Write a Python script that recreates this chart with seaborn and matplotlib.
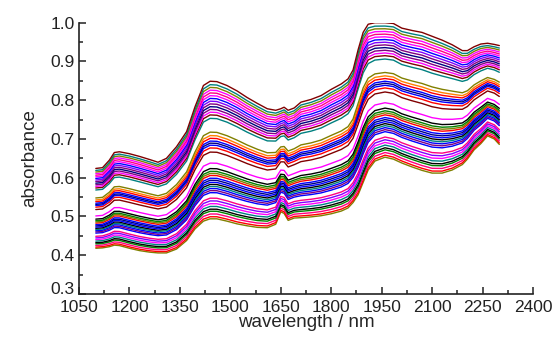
import numpy as np
import pandas as pd
import matplotlib
matplotlib.use('Agg')
import matplotlib.pyplot as plt
from matplotlib.ticker import MultipleLocator, FuncFormatter
import seaborn as sns

# --- NIR spectra: absorbance vs wavelength ---
wavelength = [1100, 1120, 1140, 1155, 1170, 1200, 1230, 1260, 1285, 1310,
              1340, 1370, 1395, 1420, 1440, 1460, 1490, 1520, 1550, 1580,
              1610, 1635, 1650, 1660, 1672, 1690, 1710, 1740, 1770, 1800,
              1830, 1850, 1865, 1880, 1895, 1910, 1930, 1960, 1985, 2010,
              2040, 2070, 2100, 2130, 2160, 2190, 2205, 2225, 2245, 2265,
              2285, 2300]

# highest spectrum (wine)
top_spectrum = [0.624, 0.626, 0.645, 0.665, 0.667, 0.662, 0.655, 0.647, 0.640, 0.650,
                0.680, 0.719, 0.783, 0.838, 0.849, 0.848, 0.838, 0.824, 0.807, 0.792,
                0.778, 0.774, 0.778, 0.782, 0.774, 0.780, 0.795, 0.802, 0.812, 0.828,
                0.842, 0.855, 0.878, 0.930, 0.975, 0.996, 1.000, 1.000, 0.998, 0.986,
                0.980, 0.975, 0.965, 0.955, 0.943, 0.928, 0.928, 0.938, 0.945, 0.947,
                0.944, 0.941]

# lowest spectrum (olive)
bottom_spectrum = [0.418, 0.419, 0.422, 0.426, 0.425, 0.418, 0.412, 0.408, 0.406, 0.406,
                   0.416, 0.438, 0.468, 0.488, 0.494, 0.494, 0.488, 0.481, 0.476, 0.472,
                   0.471, 0.480, 0.512, 0.508, 0.490, 0.496, 0.497, 0.499, 0.502, 0.507,
                   0.514, 0.522, 0.536, 0.556, 0.588, 0.620, 0.643, 0.653, 0.648, 0.638,
                   0.628, 0.619, 0.612, 0.612, 0.620, 0.634, 0.648, 0.672, 0.688, 0.708,
                   0.700, 0.686]

# relative level of each sample between lowest (0) and highest (1)
sample_level = [1.00, 0.975, 0.955, 0.935, 0.915, 0.895, 0.875, 0.855, 0.835, 0.815,
                0.795, 0.775, 0.755, 0.73,
                0.63, 0.605, 0.585, 0.565, 0.55, 0.535, 0.515, 0.485,
                0.405, 0.365, 0.345, 0.33, 0.315, 0.295, 0.28, 0.265, 0.25, 0.235,
                0.22, 0.205, 0.19,
                0.15, 0.13, 0.11, 0.09, 0.07, 0.055, 0.035, 0.015, 0.0]

# Origin-style line colours
WINE, TEAL, OLIVE, MAG, PINK = '#800000', '#008080', '#808000', '#FF00FF', '#FF0080'
BLUE, VIOLET, PURPLE, NAVY = '#0000FF', '#8000FF', '#800080', '#000080'
ORANGE, RED, GREEN, BLACK = '#FF8000', '#FF0000', '#008000', '#000000'
sample_color = [WINE, TEAL, OLIVE, MAG, PINK, MAG, BLUE, VIOLET, PURPLE, NAVY,
                PURPLE, MAG, WINE, TEAL,
                OLIVE, ORANGE, RED, BLUE, NAVY, BLUE, RED, WINE,
                MAG, BLACK, GREEN, OLIVE, RED, BLUE, NAVY, BLUE, BLACK, TEAL,
                BLUE, PURPLE, BLUE,
                PINK, VIOLET, MAG, TEAL, BLACK, GREEN, PINK, RED, OLIVE]

top = np.array(top_spectrum)
bottom = np.array(bottom_spectrum)
rows = []
for k, t in enumerate(sample_level):
    spec = bottom + t * (top - bottom)
    for w, a in zip(wavelength, spec):
        rows.append((k, w, a))
df = pd.DataFrame(rows, columns=['sample', 'wavelength', 'absorbance'])

sns.set_style('ticks')
plt.rcParams['font.family'] = ['Liberation Sans', 'DejaVu Sans']
plt.rcParams['xtick.direction'] = 'in'
plt.rcParams['ytick.direction'] = 'in'

fig = plt.figure(figsize=(5.54, 3.41), dpi=100)
ax = fig.add_axes([0.1426, 0.1378, 0.8194, 0.7956])

# draw lowest first so the highest sits on top
order = list(range(len(sample_level)))[::-1]
sns.lineplot(data=df, x='wavelength', y='absorbance', hue='sample',
             hue_order=order, palette=[sample_color[i] for i in order],
             legend=False, linewidth=1.0, estimator=None, ax=ax)

ax.set_xlim(1050, 2400)
ax.set_ylim(0.3, 1.0)
ax.xaxis.set_major_locator(MultipleLocator(150))
ax.xaxis.set_minor_locator(MultipleLocator(75))
ax.yaxis.set_major_locator(MultipleLocator(0.1))
ax.yaxis.set_minor_locator(MultipleLocator(0.05))
# the lowest label (0.3) is placed by hand, slightly raised, so it clears "1050"
ax.yaxis.set_major_formatter(FuncFormatter(lambda v, p: '' if v < 0.35 else f'{v:.1f}'))
ax.tick_params(which='major', length=5, width=1.1, labelsize=12.5, colors='#222222')
ax.tick_params(axis='x', which='major', pad=4.5)
ax.tick_params(axis='y', which='major', pad=3)
ax.tick_params(which='minor', length=3, width=1.1, colors='#222222')
ax.annotate('0.3', xy=(0, 0.3), xycoords=('axes fraction', 'data'),
            xytext=(-3.5, 3.5), textcoords='offset points',
            ha='right', va='center', fontsize=12.5, color='#222222')
for s in ['top', 'right']:
    ax.spines[s].set_visible(False)
for s in ['left', 'bottom']:
    ax.spines[s].set_linewidth(1.2)
    ax.spines[s].set_color('#222222')

ax.set_xlabel('wavelength / nm', fontsize=13.5, labelpad=-1)
ax.set_ylabel('absorbance', fontsize=13.5, labelpad=9)

fig.savefig('out.png', dpi=100)
